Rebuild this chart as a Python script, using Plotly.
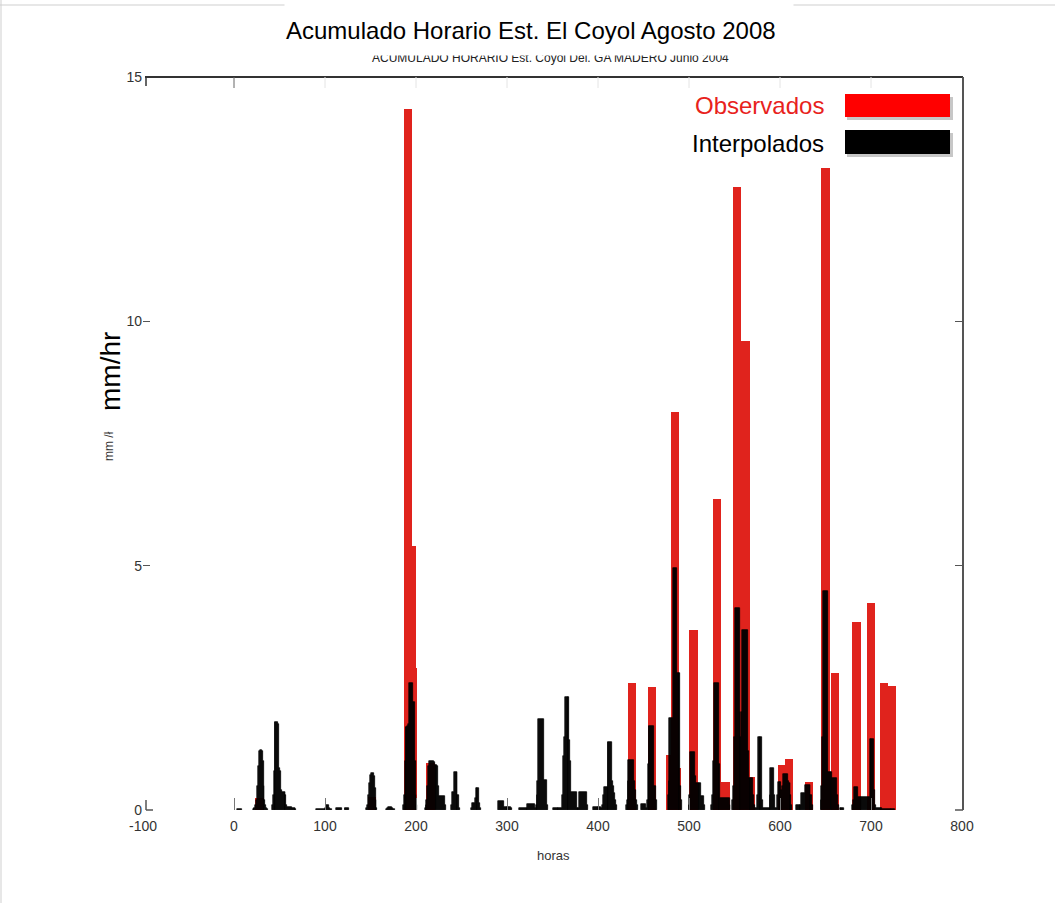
import plotly.graph_objects as go

# ---------------- datos ----------------
titulo = "Acumulado Horario Est. El Coyol Agosto 2008"
subtitulo = "ACUMULADO HORARIO Est. Coyol Del. GA MADERO Junio 2004"

x_ticks = [-100, 0, 100, 200, 300, 400, 500, 600, 700, 800]
y_ticks = [0, 5, 10, 15]

# Observados: hora central de cada caja y lluvia (mm/hr)
obs_horas = [28, 152, 191, 195, 197, 216, 437, 459, 479, 485, 487, 505, 531, 540,
             553, 562, 568, 602, 610, 632, 650, 660, 684, 700, 714, 723]
obs_mm = [0.25, 0.27, 14.35, 5.4, 2.9, 0.96, 2.6, 2.52, 1.13, 8.15, 0.86, 3.68, 6.36, 0.58,
          12.75, 9.6, 0.68, 0.92, 1.04, 0.58, 13.14, 2.8, 3.85, 4.23, 2.59, 2.54]

# Interpolados: hora de inicio de cada evento y un valor por hora
interp_inicio = [4, 21, 42, 91, 97, 113, 122, 146, 168, 186, 210, 239, 261, 291, 314,
                 351, 395, 431, 448, 477, 500, 525, 548, 573, 618, 645, 666, 680, 713]
interp_mm = [
    [0.03, 0.03, 0.03, 0.03, 0.03],
    [0.03, 0.05, 0.05, 0.1, 0.2, 0.5, 0.9, 1.2, 1.23, 1.23, 1.2, 1.0, 0.5, 0.2, 0.1, 0.05, 0.03],
    [0.1, 0.3, 0.8, 1.8, 1.8, 1.8, 1.8, 1.75, 0.85, 0.8, 0.4, 0.37, 0.37, 0.37, 0.37, 0.3,
     0.1, 0.07, 0.07, 0.07, 0.07, 0.07, 0.05, 0.05, 0.05, 0.05, 0.03],
    [0.03, 0.03, 0.03, 0.03, 0.03, 0.03],
    [0.03, 0.03, 0.03, 0.03, 0.05, 0.1, 0.1, 0.1, 0.05, 0.03, 0.03],
    [0.05, 0.05, 0.05, 0.05, 0.05, 0.05],
    [0.05, 0.05, 0.05, 0.05, 0.05],
    [0.05, 0.1, 0.3, 0.55, 0.72, 0.76, 0.76, 0.76, 0.7, 0.45, 0.2, 0.05],
    [0.03, 0.05, 0.07, 0.07, 0.07, 0.07, 0.05, 0.03, 0.03],
    [0.1, 0.3, 1.0, 1.7, 1.7, 1.72, 1.75, 2.6, 2.6, 2.6, 2.6, 2.2, 2.2, 1.0, 0.3, 0.1],
    [0.05, 0.1, 0.2, 0.5, 0.9, 1.0, 1.0, 1.0, 1.0, 1.0, 0.98, 0.93, 0.93, 0.93, 0.9, 0.5,
     0.29, 0.29, 0.29, 0.29, 0.29, 0.29, 0.1],
    [0.1, 0.37, 0.37, 0.78, 0.78, 0.78, 0.78, 0.3, 0.3, 0.05],
    [0.05, 0.14, 0.14, 0.15, 0.25, 0.45, 0.45, 0.45, 0.45, 0.14, 0.05],
    [0.19, 0.19, 0.19, 0.19, 0.19, 0.19, 0.07, 0.07, 0.07, 0.07, 0.07, 0.07, 0.07, 0.07, 0.05],
    [0.04, 0.04, 0.04, 0.04, 0.04, 0.04, 0.04, 0.04, 0.04, 0.12, 0.12, 0.12, 0.12, 0.12,
     0.12, 0.12, 0.12, 0.05, 0.1, 0.3, 0.6, 1.86, 1.86, 1.86, 1.86, 1.86, 1.86, 0.61, 0.61,
     0.61, 0.1],
    [0.04, 0.04, 0.04, 0.04, 0.04, 0.04, 0.04, 0.04, 0.04, 0.04, 0.3, 1.1, 1.5, 2.31, 2.31,
     2.31, 2.31, 2.31, 1.43, 1.0, 0.37, 0.37, 0.37, 0.37, 0.37, 0.37, 0.05, 0.05, 0.05,
     0.37, 0.37, 0.37, 0.37, 0.37, 0.37, 0.37, 0.37, 0.1],
    [0.07, 0.07, 0.07, 0.07, 0.07, 0.07, 0.07, 0.07, 0.07, 0.05, 0.1, 0.3, 0.48, 0.48, 0.48,
     0.48, 1.4, 1.4, 1.4, 1.4, 1.4, 0.6, 0.5, 0.35, 0.2, 0.1],
    [0.1, 0.2, 0.6, 1.02, 1.02, 1.02, 1.02, 1.02, 1.02, 0.6, 0.4, 0.2, 0.1],
    [0.12, 0.12, 0.12, 0.12, 0.12, 0.05, 0.2, 0.95, 1.72, 1.72, 1.72, 1.72, 1.72, 1.72,
     0.5, 0.5, 0.2],
    [0.3, 0.6, 1.88, 1.88, 1.88, 1.88, 4.95, 4.95, 4.95, 4.95, 2.8, 2.8, 2.8, 2.8, 0.5, 0.2],
    [0.1, 0.3, 1.19, 1.19, 1.19, 1.19, 1.19, 0.7, 0.55, 0.55, 0.55, 0.55, 0.55, 0.55,
     0.29, 0.29, 0.29, 0.1],
    [0.1, 0.3, 1.0, 2.6, 2.6, 2.6, 2.6, 2.6, 0.95, 0.95, 0.25, 0.25, 0.25, 0.25, 0.25,
     0.25, 0.25, 0.25, 0.25, 0.25, 0.1],
    [0.2, 0.5, 1.5, 4.13, 4.13, 4.13, 4.13, 4.13, 2.0, 1.5, 2.0, 3.68, 3.68, 3.68, 3.68,
     3.68, 3.68, 1.2, 0.65, 0.65, 0.65, 0.65, 0.65, 0.3, 0.1],
    [0.05, 0.05, 0.3, 1.49, 1.49, 1.49, 1.49, 1.49, 0.2, 0.05, 0.05, 0.05, 0.05, 0.05,
     0.05, 0.05, 0.3, 0.86, 0.86, 0.86, 0.86, 0.3, 0.05, 0.05, 0.3, 0.58, 0.58, 0.58,
     0.58, 0.4, 0.5, 0.74, 0.74, 0.74, 0.74, 0.74, 0.6, 0.55, 0.55, 0.3, 0.1],
    [0.1, 0.1, 0.1, 0.1, 0.1, 0.1, 0.35, 0.35, 0.35, 0.35, 0.51, 0.51, 0.51, 0.51, 0.51,
     0.51, 0.3, 0.3, 0.1],
    [0.2, 0.5, 1.5, 4.49, 4.49, 4.49, 4.49, 4.49, 0.78, 0.78, 0.78, 0.78, 0.78, 0.65,
     0.65, 0.65, 0.65, 0.65, 0.3, 0.1],
    [0.05, 0.05, 0.05, 0.05, 0.05],
    [0.1, 0.2, 0.48, 0.48, 0.48, 0.48, 0.27, 0.27, 0.27, 0.27, 0.27, 0.27, 0.27, 0.27,
     0.27, 0.27, 0.27, 0.27, 0.27, 1.45, 1.45, 1.45, 1.45, 1.45, 0.4, 0.1, 0.05, 0.05,
     0.05, 0.05, 0.05, 0.05, 0.05],
    [0.03, 0.03, 0.03, 0.03, 0.03, 0.03, 0.03, 0.03, 0.03, 0.03, 0.03, 0.03, 0.03, 0.03],
]

# serie horaria de los interpolados
interp_horas, interp_val = [], []
for h0, vals in zip(interp_inicio, interp_mm):
    for i, v in enumerate(vals):
        interp_horas.append(h0 + i)
        interp_val.append(v)

# ---------------- figura ----------------
W, H = 1055, 903
ML, MR, MT, MB = 143, 93, 77, 93
PW, PH = W - ML - MR, H - MT - MB

def px(x):
    return (x - ML) / PW

def py(y):
    return (H - MB - y) / PH

FUENTE = "Liberation Sans, Arial, sans-serif"
ROJO = "#e0231d"

fig = go.Figure()
fig.add_trace(go.Bar(x=obs_horas, y=obs_mm, width=9, name="Observados",
                     marker=dict(color=ROJO, line=dict(width=0))))
fig.add_trace(go.Bar(x=interp_horas, y=interp_val, width=1, name="Interpolados",
                     marker=dict(color="black", line=dict(color="black", width=0.6))))

shapes = [
    # marco
    dict(type="line", xref="paper", yref="paper", x0=px(1), x1=px(1), y0=py(0), y1=py(H),
         line=dict(color="#cfcfcf", width=1)),
    dict(type="line", xref="paper", yref="paper", x0=px(0), x1=px(W), y0=py(5), y1=py(5),
         line=dict(color="#cfcfcf", width=1)),
    # ejes superior y derecho
    dict(type="line", xref="paper", yref="paper", x0=px(145), x1=px(963), y0=1, y1=1,
         line=dict(color="#333333", width=2)),
    dict(type="line", xref="paper", yref="paper", x0=px(963), x1=px(963), y0=0, y1=1,
         line=dict(color="#555555", width=2)),
    # esquinas
    dict(type="line", xref="paper", yref="paper", x0=px(146), x1=px(146), y0=py(76), y1=py(86),
         line=dict(color="#333333", width=1.5)),
    dict(type="line", xref="paper", yref="paper", x0=px(146), x1=px(146), y0=0, y1=py(800),
         line=dict(color="#555555", width=1.5)),
    dict(type="line", xref="paper", yref="paper", x0=px(146), x1=px(153), y0=0, y1=0,
         line=dict(color="#555555", width=1.5)),
    dict(type="line", xref="paper", yref="paper", x0=px(955), x1=px(963), y0=0, y1=0,
         line=dict(color="#555555", width=1.5)),
    # leyenda
    dict(type="rect", xref="paper", yref="paper", x0=px(847), x1=px(953), y0=py(97), y1=py(120),
         fillcolor="rgba(0,0,0,0.22)", line=dict(width=0)),
    dict(type="rect", xref="paper", yref="paper", x0=px(845), x1=px(950), y0=py(94), y1=py(117),
         fillcolor="#ff0000", line=dict(width=0)),
    dict(type="rect", xref="paper", yref="paper", x0=px(847), x1=px(953), y0=py(133), y1=py(157),
         fillcolor="rgba(0,0,0,0.22)", line=dict(width=0)),
    dict(type="rect", xref="paper", yref="paper", x0=px(845), x1=px(950), y0=py(130), y1=py(154),
         fillcolor="#000000", line=dict(width=0)),
]

# marcas del eje superior
for t in x_ticks[1:-1]:
    shapes.append(dict(type="line", xref="x", yref="paper", x0=t, x1=t, y0=1, y1=py(88),
                       line=dict(color="#666666" if t == 0 else "#e4e4e4", width=1)))

annotations = [
    # subtítulo antiguo, parcialmente tapado por el recuadro del título
    dict(text=subtitulo, x=px(550), y=py(57.5), xref="paper", yref="paper", showarrow=False,
         xanchor="center", yanchor="middle", font=dict(family=FUENTE, size=12, color="#222")),
    dict(text=" ", x=px(284), y=py(0), xref="paper", yref="paper", showarrow=False,
         xanchor="left", yanchor="top", width=508, height=54, bgcolor="white", borderpad=0),
    dict(text=titulo, x=px(531), y=py(30), xref="paper", yref="paper", showarrow=False,
         xanchor="center", yanchor="middle", font=dict(family=FUENTE, size=24, color="black")),
    dict(text="Observados", x=px(826), y=py(105), xref="paper", yref="paper", showarrow=False,
         xanchor="right", yanchor="middle", font=dict(family=FUENTE, size=24, color="#e8221c")),
    dict(text="Interpolados", x=px(826), y=py(143), xref="paper", yref="paper", showarrow=False,
         xanchor="right", yanchor="middle", font=dict(family=FUENTE, size=24, color="black")),
    dict(text="mm/hr", x=px(110), y=py(372), xref="paper", yref="paper", showarrow=False,
         textangle=-90, xanchor="center", yanchor="middle",
         font=dict(family=FUENTE, size=28, color="black")),
    dict(text="mm /ł", x=px(109), y=py(446), xref="paper", yref="paper", showarrow=False,
         textangle=-90, xanchor="center", yanchor="middle",
         font=dict(family=FUENTE, size=12, color="#333")),
    dict(text="horas", x=px(553), y=py(856), xref="paper", yref="paper", showarrow=False,
         xanchor="center", yanchor="middle", font=dict(family=FUENTE, size=13, color="#333")),
]

fig.update_layout(
    width=W, height=H,
    margin=dict(l=ML, r=MR, t=MT, b=MB, autoexpand=False),
    paper_bgcolor="white", plot_bgcolor="white",
    barmode="overlay", bargap=0,
    showlegend=False,
    shapes=shapes, annotations=annotations,
    xaxis=dict(range=[-100, 800], tickvals=x_ticks, ticktext=[str(t) for t in x_ticks],
               ticks="inside", ticklen=12, tickcolor="#777", tickwidth=1,
               ticklabelstandoff=6,
               showline=False, showgrid=False, zeroline=False,
               tickfont=dict(family=FUENTE, size=14, color="#333")),
    yaxis=dict(range=[0, 15], tickvals=y_ticks, ticktext=[str(t) for t in y_ticks],
               ticks="inside", ticklen=7, tickcolor="#555", tickwidth=1,
               mirror="ticks", showline=False, showgrid=False, zeroline=False,
               tickfont=dict(family=FUENTE, size=14, color="#333")),
)

fig.write_html("out.html")
